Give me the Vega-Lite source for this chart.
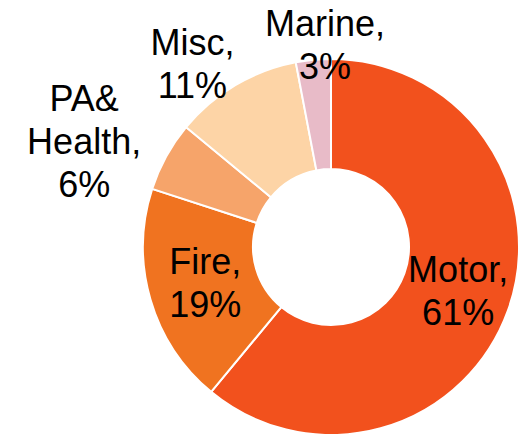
{
  "$schema": "https://vega.github.io/schema/vega-lite/v6.json",
  "width": 376,
  "height": 374,
  "autosize": "none",
  "padding": {"left": 143, "top": 60, "right": 2, "bottom": 0},
  "background": "white",
  "config": {"view": {"stroke": null}, "text": {"font": "Liberation Sans", "fontSize": 36, "lineHeight": 43, "color": "black"}},
  "data": {
    "values": [
      {"rank": 1, "category": "Motor", "value": 61, "label": "Motor,\n61%"},
      {"rank": 2, "category": "Fire", "value": 19, "label": "Fire,\n19%"},
      {"rank": 3, "category": "PA&Health", "value": 6, "label": "PA&\nHealth,\n6%"},
      {"rank": 4, "category": "Misc", "value": 11, "label": "Misc,\n11%"},
      {"rank": 5, "category": "Marine", "value": 3, "label": "Marine,\n3%"}
    ]
  },
  "encoding": {
    "theta": {"field": "value", "type": "quantitative", "stack": true},
    "order": {"field": "rank", "type": "quantitative"}
  },
  "layer": [
    {
      "mark": {"type": "arc", "radius": 188, "radius2": 78, "stroke": "white", "strokeWidth": 2},
      "encoding": {
        "color": {
          "field": "category",
          "type": "nominal",
          "scale": {"domain": ["Motor", "Fire", "PA&Health", "Misc", "Marine"], "range": ["#F2511D", "#F07320", "#F6A46A", "#FDD4A6", "#E8BBC8"]},
          "legend": null
        }
      }
    },
    {
      "mark": {"type": "text", "radius": 133, "dx": 2, "dy": -21, "lineBreak": "\n", "align": "center", "baseline": "middle"},
      "encoding": {
        "text": {"condition": {"test": "datum.category === 'Motor' || datum.category === 'Fire'", "field": "label"}, "value": ""}
      }
    },
    {
      "mark": {"type": "text", "radius": 268, "dx": -12, "dy": -18, "lineBreak": "\n", "align": "center", "baseline": "middle"},
      "encoding": {
        "text": {"condition": {"test": "datum.category === 'PA&Health'", "field": "label"}, "value": ""}
      }
    },
    {
      "mark": {"type": "text", "radius": 229, "dx": -22, "dy": -6, "lineBreak": "\n", "align": "center", "baseline": "middle"},
      "encoding": {
        "text": {"condition": {"test": "datum.category === 'Misc'", "field": "label"}, "value": ""}
      }
    },
    {
      "mark": {"type": "text", "radius": 202, "dx": 13, "dy": -21, "lineBreak": "\n", "align": "center", "baseline": "middle"},
      "encoding": {
        "text": {"condition": {"test": "datum.category === 'Marine'", "field": "label"}, "value": ""}
      }
    }
  ]
}
